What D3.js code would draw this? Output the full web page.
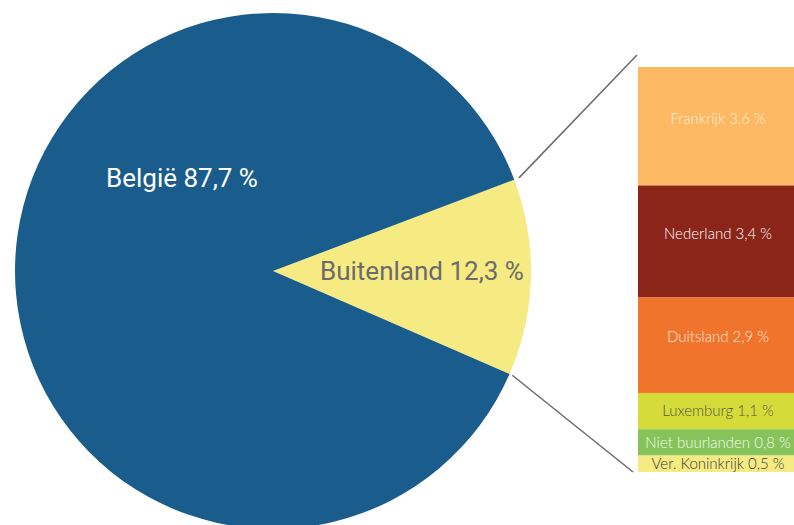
<!DOCTYPE html>
<html>
<head>
<meta charset="utf-8">
<script src="https://cdn.jsdelivr.net/npm/d3@7"></script>
<style>
  body { margin: 0; background: #fff; }
  svg { display: block; }
</style>
</head>
<body>
<div id="chart"></div>
<script>
// Pie data
const pieLabels = ['Buitenland', 'België'];
const pieValues = [12.3, 87.7];
const pieColors = ['#f6ea82', '#1a5d8c'];

// Breakdown of Buitenland, top to bottom
const countries = ['Frankrijk', 'Nederland', 'Duitsland', 'Luxemburg', 'Niet buurlanden', 'Ver. Koninkrijk'];
const countryValues = [3.6, 3.4, 2.9, 1.1, 0.8, 0.5];
const countryColors = ['#fcb862', '#8b2519', '#f0742c', '#d5dc3a', '#86c35a', '#f6ea82'];
const countryText = ['#fdf0dc', '#ffffff', '#fde8dc', '#555540', '#f4f9ee', '#3a3a3a'];

const width = 794;
const height = 525;
const cx = 273, cy = 271, radius = 258;
const barX = 638, barW = 160, barTop = 67, barBottom = 472;

const fmt = v => String(v).replace('.', ',') + ' %';

const svg = d3.select('#chart').append('svg')
  .attr('width', width)
  .attr('height', height);

// Pie: Buitenland slice on the right-hand side, turned a little clockwise
const total = d3.sum(pieValues);
const outAngle = 2 * Math.PI * pieValues[0] / total;
const start = Math.PI / 2 - outAngle / 2 + 1.4 * Math.PI / 180;

const pie = d3.pie().sort(null).value(d => d)
  .startAngle(start)
  .endAngle(start + 2 * Math.PI);
const arcs = pie(pieValues);
const arc = d3.arc().innerRadius(0).outerRadius(radius);

const g = svg.append('g').attr('transform', `translate(${cx},${cy})`);
g.selectAll('path.slice')
  .data(arcs)
  .enter()
  .append('path')
  .attr('class', 'slice')
  .attr('d', arc)
  .attr('fill', (d, i) => pieColors[i]);

// Pie labels
g.append('text')
  .attr('x', 47)
  .attr('y', 9)
  .attr('font-family', 'Roboto, sans-serif')
  .attr('font-size', 26)
  .attr('fill', '#6b6b6b')
  .text(pieLabels[0] + ' ' + fmt(pieValues[0]));

g.append('text')
  .attr('x', -167)
  .attr('y', -84)
  .attr('font-family', 'Roboto, sans-serif')
  .attr('font-size', 26)
  .attr('fill', '#ffffff')
  .text(pieLabels[1] + ' ' + fmt(pieValues[1]));

// Stacked bar
const y = d3.scaleLinear()
  .domain([0, d3.sum(countryValues)])
  .range([barTop, barBottom]);

let acc = 0;
const segs = countryValues.map((v, i) => {
  const s = { name: countries[i], value: v, y0: acc, y1: acc + v, i: i };
  acc += v;
  return s;
});

const bar = svg.append('g');
bar.selectAll('rect')
  .data(segs)
  .enter()
  .append('rect')
  .attr('x', barX)
  .attr('y', d => y(d.y0))
  .attr('width', barW)
  .attr('height', d => y(d.y1) - y(d.y0))
  .attr('fill', d => countryColors[d.i]);

bar.selectAll('text')
  .data(segs)
  .enter()
  .append('text')
  .attr('x', 718)
  .attr('y', d => {
    const h = y(d.y1) - y(d.y0);
    return (y(d.y0) + y(d.y1)) / 2 - (h > 50 ? 8 : 0);
  })
  .attr('dy', '0.35em')
  .attr('text-anchor', 'middle')
  .attr('font-family', 'Lato, sans-serif')
  .attr('font-weight', 300)
  .attr('font-size', 15)
  .attr('fill', d => countryText[d.i])
  .text(d => d.name + ' ' + fmt(d.value));

// Connector lines
const a0 = arcs[0].startAngle, a1 = arcs[0].endAngle;
const edge = (a, r) => [cx + r * Math.sin(a), cy - r * Math.cos(a)];
const p0 = edge(a0, radius + 5);
const p1 = edge(a1, radius + 3);

svg.append('line')
  .attr('x1', p0[0]).attr('y1', p0[1])
  .attr('x2', barX - 1).attr('y2', barTop - 12)
  .attr('stroke', '#6a6a6a')
  .attr('stroke-width', 1.5);

svg.append('line')
  .attr('x1', p1[0]).attr('y1', p1[1])
  .attr('x2', barX - 5).attr('y2', barBottom)
  .attr('stroke', '#6a6a6a')
  .attr('stroke-width', 1.5);
</script>
</body>
</html>
